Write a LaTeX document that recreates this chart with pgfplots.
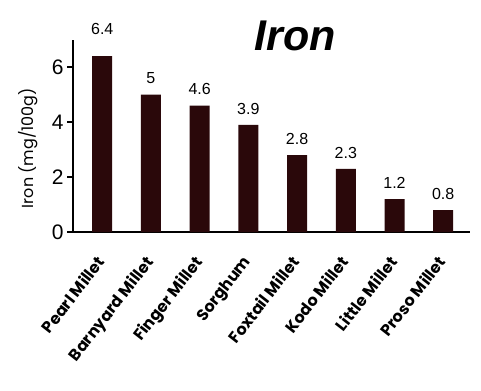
\documentclass[border=0pt]{standalone}
\usepackage{pgfplots}
\pgfplotsset{compat=1.18}
\usepackage{fontspec}
\setmainfont{Liberation Sans}
\newfontfamily\gothic{Poppins}
\definecolor{barc}{RGB}{42,8,10}
\begin{document}
\begin{tikzpicture}[x=1bp,y=1bp]
\path[use as bounding box] (0,0) rectangle (481,390);
\begin{axis}[
  at={(73bp,158bp)}, anchor=south west,
  scale only axis, width=397bp, height=192.5bp,
  xmin=-0.6, xmax=7.55, ymin=0, ymax=7,
  axis x line=bottom, axis y line=left,
  axis line style={-, line width=1.5bp, black},
  clip=false,
  ybar, bar width=20bp,
  xtick=data,
  xticklabels={Pearl Millet,Barnyard Millet,Finger Millet,Sorghum,Foxtail Millet,Kodo Millet,Little Millet,Proso Millet},
  xtick style={draw=none},
  xticklabel style={rotate=52, anchor=north east, font=\gothic\bfseries\fontsize{16bp}{18bp}\selectfont, inner sep=0pt, yshift=-5bp, xshift=-17bp},
  ytick={0,2,4,6},
  ytick style={line width=1.2bp, black},
  major tick length=6bp,
  tick align=outside,
  yticklabel style={font=\fontsize{21bp}{24bp}\selectfont},
  /pgf/number format/assume math mode=true,
  ylabel={Iron (mg/100g)},
  ylabel style={at={(axis description cs:-0.113,0.436)}, anchor=center, font=\gothic\fontsize{16bp}{18bp}\selectfont},
  nodes near coords,
  visualization depends on={rawy \as \ry},
  every node near coord/.append style={font=\fontsize{16bp}{18bp}\selectfont, yshift={ifthenelse(\ry>6,18,7)}},
]
\addplot[fill=barc, draw=none] coordinates {(0,6.4)(1,5)(2,4.6)(3,3.9)(4,2.8)(5,2.3)(6,1.2)(7,0.8)};
\node[font=\fontsize{43bp}{47bp}\selectfont\bfseries\itshape] at (axis cs:3.96,7.14) {Iron};
\end{axis}
\end{tikzpicture}
\end{document}
